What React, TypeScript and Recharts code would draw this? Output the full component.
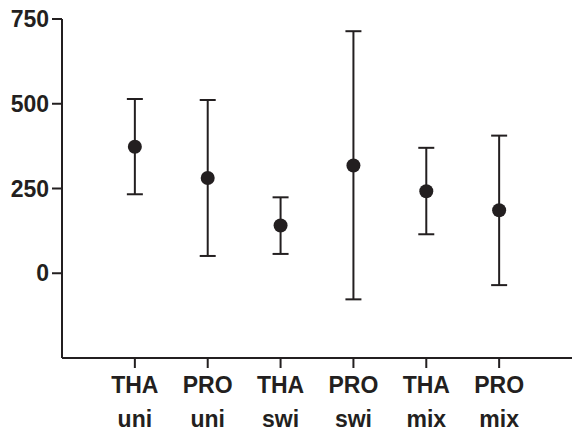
import { ErrorBar, Scatter, ScatterChart, XAxis, YAxis } from 'recharts'

const GRUPO = ['THA', 'PRO', 'THA', 'PRO', 'THA', 'PRO']
const MODO = ['uni', 'uni', 'swi', 'swi', 'mix', 'mix']
const MEDIA = [373, 281, 141, 318, 242, 186]
const INFERIOR = [233, 51, 57, -77, 115, -35]
const SUPERIOR = [514, 511, 224, 714, 370, 406]
const Y_TICKS = [0, 250, 500, 750]

const INK = '#231f20'
const FONT = '"Liberation Sans", Arial, Helvetica, sans-serif'

const data = MEDIA.map((m, i) => ({
  pos: i + 1,
  media: m,
  err: [m - INFERIOR[i], SUPERIOR[i] - m],
}))

function TickDoble(props: any) {
  const { x, y, payload } = props
  const i = Math.round(payload.value) - 1
  if (i < 0 || i >= GRUPO.length) return null
  return (
    <g>
      <text x={x} y={y + 23} textAnchor="middle" fill={INK} fontSize={23} fontWeight="bold" fontFamily={FONT}>
        {GRUPO[i]}
      </text>
      <text x={x} y={y + 57} textAnchor="middle" fill={INK} fontSize={23} fontWeight="bold" fontFamily={FONT}>
        {MODO[i]}
      </text>
    </g>
  )
}

export default function App() {
  return (
    <div style={{ position: 'absolute', left: 0, top: 0, width: 573, height: 433, background: '#fff' }}>
      <ScatterChart width={573} height={433} margin={{ top: 19, right: 1, left: 0, bottom: 0 }}>
        <XAxis
          type="number"
          dataKey="pos"
          domain={[0, 7]}
          ticks={[1, 2, 3, 4, 5, 6]}
          height={75}
          stroke={INK}
          strokeWidth={2}
          tickSize={10}
          tickLine={{ stroke: INK, strokeWidth: 2 }}
          tick={<TickDoble />}
          interval={0}
        />
        <YAxis
          type="number"
          dataKey="media"
          domain={[-250, 750]}
          ticks={Y_TICKS}
          width={62}
          stroke={INK}
          strokeWidth={2}
          tickSize={10}
          tickMargin={3}
          tickLine={{ stroke: INK, strokeWidth: 2 }}
          interval={0}
          tick={{ fontSize: 23, fontWeight: 'bold', fill: INK, fontFamily: FONT }}
        />
        <Scatter
          data={data}
          fill={INK}
          isAnimationActive={false}
          shape={(p: any) => <circle cx={p.cx} cy={p.cy} r={7} fill={INK} />}
        >
          <ErrorBar dataKey="err" direction="y" width={8} stroke={INK} strokeWidth={2} />
        </Scatter>
      </ScatterChart>
    </div>
  )
}
